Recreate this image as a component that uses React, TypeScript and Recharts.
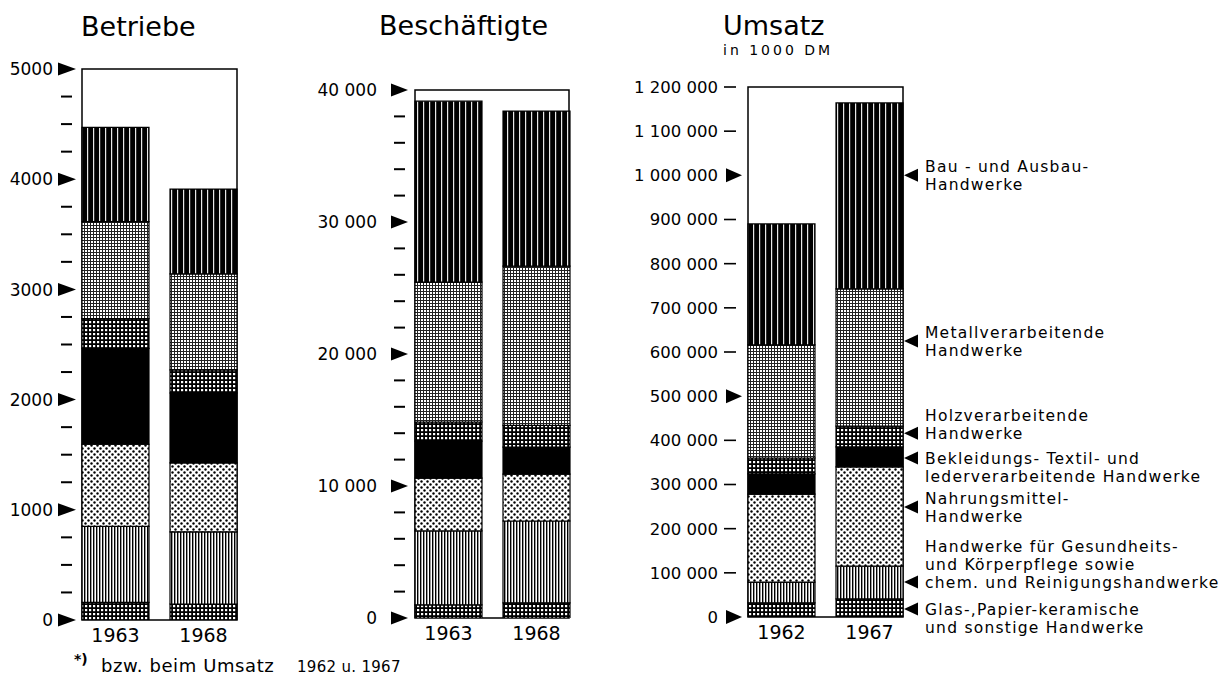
import React from 'react';
import { BarChart, Bar, XAxis, YAxis, ReferenceArea, LabelList } from 'recharts';

const FONT = '"DejaVu Sans", sans-serif';

// stack order, bottom -> top
const SERIES = ['glas', 'gesund', 'nahrung', 'bekleidung', 'holz', 'metall', 'bau'];

// Betriebe
const betriebeYears = ['1963', '1968'];
const betriebe1963 = [160, 690, 745, 870, 270, 880, 855];
const betriebe1968 = [145, 655, 625, 635, 210, 870, 770];
const betriebeMax = 5000;
const betriebeTicks = [0, 250, 500, 750, 1000, 1250, 1500, 1750, 2000, 2250, 2500, 2750, 3000, 3250, 3500, 3750, 4000, 4250, 4500, 4750, 5000];
const betriebeLabeled = [0, 1000, 2000, 3000, 4000, 5000];

// Beschäftigte
const beschYears = ['1963', '1968'];
const besch1963 = [1000, 5600, 4000, 2800, 1450, 10600, 13700];
const besch1968 = [1150, 6200, 3550, 2050, 1650, 12050, 11750];
const beschMax = 40000;
const beschTicks = [0, 2000, 4000, 6000, 8000, 10000, 12000, 14000, 16000, 18000, 20000, 22000, 24000, 26000, 28000, 30000, 32000, 34000, 36000, 38000, 40000];
const beschLabeled = [0, 10000, 20000, 30000, 40000];

// Umsatz (in 1000 DM)
const umsatzYears = ['1962', '1967'];
const umsatz1962 = [32000, 47000, 199000, 46000, 36000, 256000, 274000];
const umsatz1967 = [41000, 74000, 225000, 45000, 47000, 311000, 421000];
const umsatzMax = 1200000;
const umsatzTicks = [0, 100000, 200000, 300000, 400000, 500000, 600000, 700000, 800000, 900000, 1000000, 1100000, 1200000];
const umsatzArrows = [0, 500000, 1000000];

// right-hand legend of the Umsatz panel (top -> bottom)
const legendLines = [
  ['Bau - und Ausbau-', 'Handwerke'],
  ['Metallverarbeitende', 'Handwerke'],
  ['Holzverarbeitende', 'Handwerke'],
  ['Bekleidungs-  Textil- und', 'lederverarbeitende Handwerke'],
  ['Nahrungsmittel-', 'Handwerke'],
  ['Handwerke für Gesundheits-', 'und Körperpflege sowie', 'chem. und Reinigungshandwerke'],
  ['Glas-,Papier-keramische', 'und sonstige Handwerke'],
];
const legendAt = [1000000, 625000, 416000, 360000, 249000, 79000, 18000];
const legendAnchorLine = [0.5, 0.5, 1, 0, 0.5, 2, 0];

function buildRow(years: string[], values: number[][]) {
  const row: Record<string, any> = { name: 'all' };
  years.forEach((yr, i) => {
    row[`year_${i}`] = yr;
    SERIES.forEach((s, k) => {
      row[`${s}_${i}`] = values[i][k];
    });
  });
  return [row];
}

const spaced = (v: number) => String(v).replace(/\B(?=(\d{3})+(?!\d))/g, ' ');

type TickCfg = {
  labeled: (v: number) => boolean;
  arrow: (v: number) => boolean;
  format: (v: number) => string;
  labelGap: number;
  arrowBase: number;
  arrowTip: number;
  arrowHalf: number;
  dashFrom: number;
  dashLen: number;
  dashThick: number;
  fontSize: number;
};

function makeLeftTick(cfg: TickCfg) {
  return (props: any) => {
    const { x, y, payload } = props;
    const v = payload.value as number;
    const lab = cfg.labeled(v);
    const arr = cfg.arrow(v);
    return (
      <g>
        {lab && (
          <text x={x - cfg.labelGap} y={y + cfg.fontSize * 0.36} textAnchor="end" fontSize={cfg.fontSize} fontFamily={FONT} fill="#000">
            {cfg.format(v)}
          </text>
        )}
        {arr ? (
          <polygon
            points={`${x - cfg.arrowBase},${y - cfg.arrowHalf} ${x - cfg.arrowTip},${y} ${x - cfg.arrowBase},${y + cfg.arrowHalf}`}
            fill="#000"
          />
        ) : (
          <rect x={x - cfg.dashFrom} y={y - cfg.dashThick / 2} width={cfg.dashLen} height={cfg.dashThick} fill="#000" />
        )}
      </g>
    );
  };
}

const betriebeTick = makeLeftTick({
  labeled: (v) => betriebeLabeled.includes(v),
  arrow: (v) => betriebeLabeled.includes(v),
  format: (v) => String(v),
  labelGap: 29, arrowBase: 24, arrowTip: 6, arrowHalf: 6.5,
  dashFrom: 21, dashLen: 11, dashThick: 2, fontSize: 17,
});

const beschTick = makeLeftTick({
  labeled: (v) => beschLabeled.includes(v),
  arrow: (v) => beschLabeled.includes(v),
  format: (v) => spaced(v),
  labelGap: 38, arrowBase: 24, arrowTip: 7, arrowHalf: 6.5,
  dashFrom: 21, dashLen: 11, dashThick: 2, fontSize: 17,
});

const umsatzTick = makeLeftTick({
  labeled: () => true,
  arrow: (v) => umsatzArrows.includes(v),
  format: (v) => spaced(v),
  labelGap: 30, arrowBase: 22, arrowTip: 6, arrowHalf: 7,
  dashFrom: 24, dashLen: 12, dashThick: 1.6, fontSize: 16.5,
});

const LEG_FS = 15.5;
const LEG_LH = 18;

const AnnotTick = (props: any) => {
  const { x, y, payload } = props;
  const i = legendAt.indexOf(payload.value);
  if (i < 0) return <g />;
  const lines = legendLines[i];
  const anchor = legendAnchorLine[i];
  return (
    <g>
      <polygon points={`${x + 1},${y} ${x + 15},${y - 6.5} ${x + 15},${y + 6.5}`} fill="#000" />
      <text fontSize={LEG_FS} fontFamily={FONT} fill="#000" letterSpacing={1.25}>
        {lines.map((l, k) => (
          <tspan key={k} x={x + 22} y={y + (k - anchor) * LEG_LH + LEG_FS * 0.36}>{l}</tspan>
        ))}
      </text>
    </g>
  );
};

function renderBars(years: string[]) {
  const out: React.ReactNode[] = [];
  years.forEach((_, i) => {
    SERIES.forEach((s, k) => {
      out.push(
        <Bar
          key={`${s}_${i}`}
          yAxisId="l"
          dataKey={`${s}_${i}`}
          stackId={`y${i}`}
          fill={s === 'bekleidung' ? '#000' : `url(#pat_${s})`}
          stroke="#000"
          strokeWidth={1.2}
          isAnimationActive={false}
        >
          {k === 0 && (
            <LabelList
              dataKey={`year_${i}`}
              position="bottom"
              offset={9}
              fill="#000"
              fontSize={19}
              fontFamily={FONT}
            />
          )}
        </Bar>
      );
    });
  });
  return out;
}

type PanelProps = {
  left: number;
  width: number;
  margin: { top: number; right: number; bottom: number; left: number };
  axisWidth: number;
  years: string[];
  values: number[][];
  max: number;
  ticks: number[];
  tick: any;
  right?: boolean;
};

function Panel(p: PanelProps) {
  const data = buildRow(p.years, p.values);
  return (
    <div style={{ position: 'absolute', left: p.left, top: 0, width: p.width, height: 680 }}>
      <BarChart width={p.width} height={680} data={data} margin={p.margin} barGap={21} barCategoryGap={0}>
        <XAxis dataKey="name" type="category" hide />
        <YAxis
          yAxisId="l"
          type="number"
          domain={[0, p.max]}
          ticks={p.ticks}
          interval={0}
          width={p.axisWidth}
          axisLine={false}
          tickLine={false}
          tickSize={0}
          tickMargin={0}
          tick={p.tick}
          allowDataOverflow
        />
        {p.right && (
          <YAxis
            yAxisId="r"
            orientation="right"
            type="number"
            domain={[0, p.max]}
            ticks={legendAt}
            interval={0}
            width={329}
            axisLine={false}
            tickLine={false}
            tickSize={0}
            tickMargin={0}
            tick={(tp: any) => <AnnotTick {...tp} />}
            allowDataOverflow
          />
        )}
        <ReferenceArea yAxisId="l" y1={0} y2={p.max} fill="none" stroke="#000" strokeWidth={1.5} ifOverflow="visible" />
        {renderBars(p.years)}
      </BarChart>
    </div>
  );
}

function Patterns() {
  return (
    <svg width={0} height={0} style={{ position: 'absolute' }}>
      <defs>
        <pattern id="pat_bau" width={6} height={10} patternUnits="userSpaceOnUse">
          <rect width={6} height={10} fill="#000" />
          <rect x={3} width={1.2} height={10} fill="#e8e8e8" />
        </pattern>
        <pattern id="pat_metall" width={3} height={3} patternUnits="userSpaceOnUse">
          <rect width={3} height={3} fill="#fff" />
          <rect width={3} height={1} fill="#222" />
          <rect width={1} height={3} fill="#222" />
        </pattern>
        <pattern id="pat_holz" width={4} height={4} patternUnits="userSpaceOnUse">
          <rect width={4} height={4} fill="#000" />
          <rect x={1} y={1} width={2.2} height={2.2} fill="#fff" />
        </pattern>
        <pattern id="pat_glas" width={4} height={4} patternUnits="userSpaceOnUse">
          <rect width={4} height={4} fill="#000" />
          <rect x={1} y={1} width={2.2} height={2.2} fill="#fff" />
        </pattern>
        <pattern id="pat_nahrung" width={6} height={6} patternUnits="userSpaceOnUse">
          <rect width={6} height={6} fill="#fff" />
          <circle cx={1.5} cy={1.5} r={1.2} fill="#000" />
          <circle cx={4.5} cy={4.5} r={1.2} fill="#000" />
        </pattern>
        <pattern id="pat_gesund" width={3} height={10} patternUnits="userSpaceOnUse">
          <rect width={3} height={10} fill="#fff" />
          <rect width={1.4} height={10} fill="#000" />
        </pattern>
      </defs>
    </svg>
  );
}

export default function App() {
  return (
    <div style={{ position: 'absolute', left: 0, top: 0, width: 1232, height: 680, background: '#fff', overflow: 'hidden' }}>
      <Patterns />
      <Panel
        left={0}
        width={300}
        margin={{ top: 69, right: 63, bottom: 60, left: 2 }}
        axisWidth={80}
        years={betriebeYears}
        values={[betriebe1963, betriebe1968]}
        max={betriebeMax}
        ticks={betriebeTicks}
        tick={betriebeTick}
      />
      <Panel
        left={300}
        width={300}
        margin={{ top: 90, right: 31, bottom: 62, left: 15 }}
        axisWidth={100}
        years={beschYears}
        values={[besch1963, besch1968]}
        max={beschMax}
        ticks={beschTicks}
        tick={beschTick}
      />
      <Panel
        left={600}
        width={632}
        margin={{ top: 87, right: 0, bottom: 63, left: 8 }}
        axisWidth={140}
        years={umsatzYears}
        values={[umsatz1962, umsatz1967]}
        max={umsatzMax}
        ticks={umsatzTicks}
        tick={umsatzTick}
        right
      />
      <svg width={1232} height={680} style={{ position: 'absolute', left: 0, top: 0, pointerEvents: 'none' }}>
        <g fontFamily={FONT} fill="#000">
          <text x={81} y={36} fontSize={27}>Betriebe</text>
          <text x={379} y={35} fontSize={27}>Beschäftigte</text>
          <text x={723} y={35} fontSize={27}>Umsatz</text>
          <text x={723} y={55} fontSize={14} letterSpacing={3}>in 1000 DM</text>
          <text x={74} y={664} fontSize={14} fontWeight="bold">*)</text>
          <text x={101} y={672} fontSize={18} letterSpacing={0.6}>bzw. beim Umsatz</text>
          <text x={297} y={672} fontSize={15} letterSpacing={0.3}>1962 u. 1967</text>
        </g>
      </svg>
    </div>
  );
}
